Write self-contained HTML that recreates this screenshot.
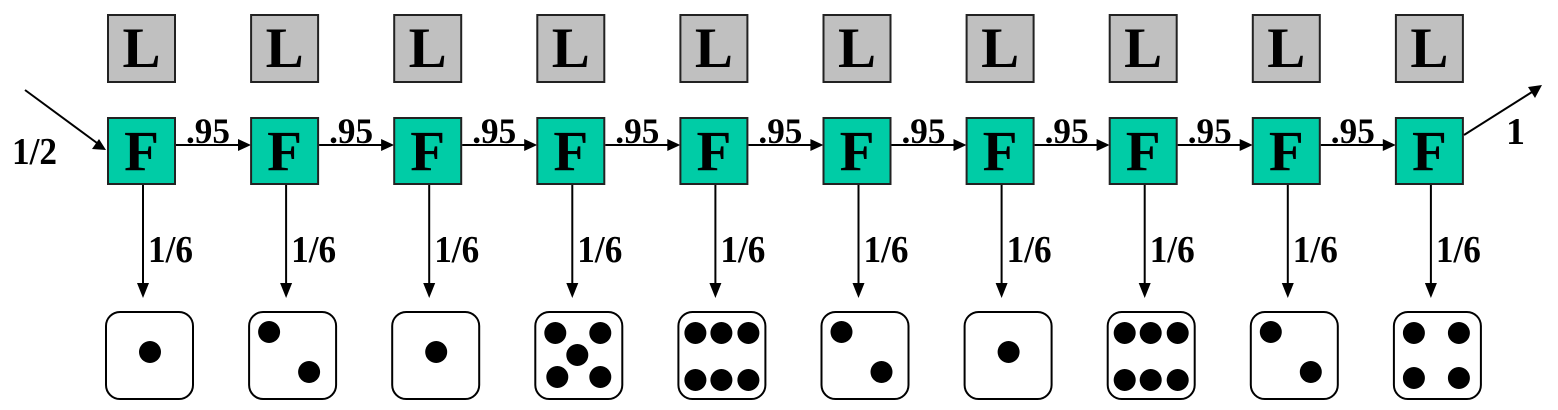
<!DOCTYPE html>
<html><head><meta charset="utf-8"><style>
html,body{margin:0;padding:0;background:#fff;}
svg{display:block;}
text{font-family:"Liberation Serif",serif;font-weight:bold;fill:#000;}
</style></head><body>
<svg width="1558" height="410" viewBox="0 0 1558 410" xmlns="http://www.w3.org/2000/svg">
<defs>
<g id="col">
  <rect x="108" y="15" width="67" height="67" fill="#c0c0c0" stroke="#222" stroke-width="2"/>
  <text x="141.5" y="67" font-size="57" text-anchor="middle">L</text>
  <rect x="108" y="118" width="67" height="66" fill="#00cca6" stroke="#222" stroke-width="2"/>
  <text x="141.5" y="170" font-size="57" text-anchor="middle">F</text>
  <line x1="143" y1="185" x2="143" y2="285" stroke="#000" stroke-width="2"/>
  <polygon points="137,283 149,283 143,298" fill="#000"/>
  <text x="148" y="262" font-size="38" textLength="45" lengthAdjust="spacingAndGlyphs">1/6</text>
  <rect x="106" y="312" width="87" height="87" rx="14" fill="#fff" stroke="#000" stroke-width="2"/>
</g>
<g id="harr">
  <line x1="176" y1="145" x2="240" y2="145" stroke="#000" stroke-width="2"/>
  <polygon points="238,139 238,151 251,145" fill="#000"/>
  <text x="186" y="143" font-size="36" textLength="44" lengthAdjust="spacingAndGlyphs">.95</text>
</g>
<circle id="d" r="11" fill="#000"/>
<g id="f1"><use href="#d" x="150" y="352"/></g>
<g id="f2"><use href="#d" x="126" y="332"/><use href="#d" x="166" y="372"/></g>
<g id="f4"><use href="#d" x="126" y="333"/><use href="#d" x="171" y="333"/><use href="#d" x="126" y="378"/><use href="#d" x="171" y="378"/></g>
<g id="f5"><use href="#d" x="126" y="333"/><use href="#d" x="171" y="333"/><use href="#d" x="148" y="355"/><use href="#d" x="128" y="377"/><use href="#d" x="171" y="377"/></g>
<g id="f6"><use href="#d" x="123" y="333"/><use href="#d" x="149" y="333"/><use href="#d" x="176" y="333"/><use href="#d" x="123" y="380"/><use href="#d" x="149" y="380"/><use href="#d" x="176" y="380"/></g>
</defs>

<g transform="translate(0,0)"><use href="#col"/><use href="#harr"/><use href="#f1"/></g>
<g transform="translate(143.1,0)"><use href="#col"/><use href="#harr"/><use href="#f2"/></g>
<g transform="translate(286.2,0)"><use href="#col"/><use href="#harr"/><use href="#f1"/></g>
<g transform="translate(429.3,0)"><use href="#col"/><use href="#harr"/><use href="#f5"/></g>
<g transform="translate(572.4,0)"><use href="#col"/><use href="#harr"/><use href="#f6"/></g>
<g transform="translate(715.5,0)"><use href="#col"/><use href="#harr"/><use href="#f2"/></g>
<g transform="translate(858.6,0)"><use href="#col"/><use href="#harr"/><use href="#f1"/></g>
<g transform="translate(1001.7,0)"><use href="#col"/><use href="#harr"/><use href="#f6"/></g>
<g transform="translate(1144.8,0)"><use href="#col"/><use href="#harr"/><use href="#f2"/></g>
<g transform="translate(1287.9,0)"><use href="#col"/><use href="#f4"/></g>

<line x1="25" y1="90" x2="97" y2="143" stroke="#000" stroke-width="2"/>
<polygon points="106,150 92,149 99,139" fill="#000"/>
<text x="12" y="164" font-size="38" textLength="45" lengthAdjust="spacingAndGlyphs">1/2</text>

<line x1="1464" y1="135" x2="1532" y2="92" stroke="#000" stroke-width="2"/>
<polygon points="1542,85 1535,98 1528,87" fill="#000"/>
<text x="1506" y="144" font-size="38">1</text>
</svg>
</body></html>
